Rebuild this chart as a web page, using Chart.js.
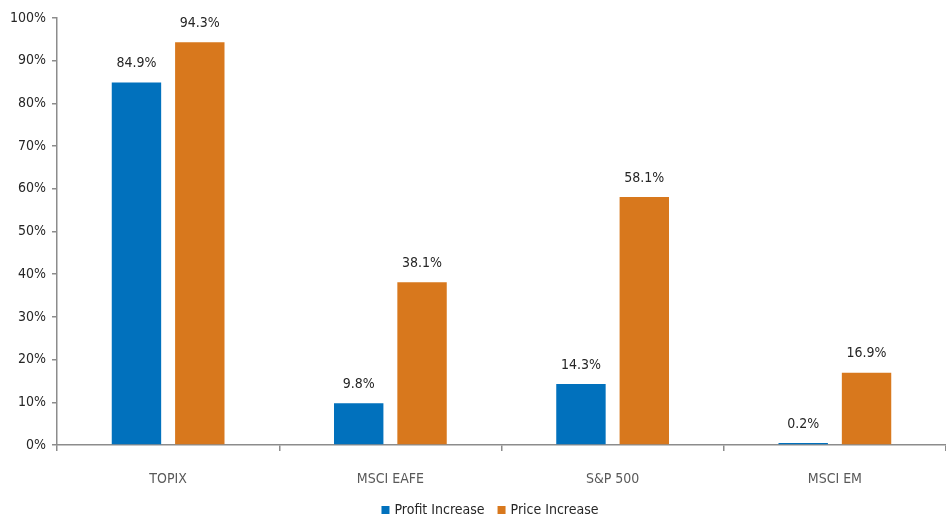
<!DOCTYPE html>
<html>
<head>
<meta charset="utf-8">
<script src="https://cdn.jsdelivr.net/npm/chart.js@4.4.0/dist/chart.umd.min.js"></script>
<style>
  html, body { margin: 0; padding: 0; background: #fff; }
  #wrap { width: 946px; height: 517px; }
</style>
</head>
<body>
<div id="wrap"><canvas id="gains"></canvas></div>
<script>
"use strict"

let indices = ["TOPIX", "MSCI EAFE", "S&P 500", "MSCI EM"]
let profitIncrease = [84.9, 9.8, 14.3, 0.2]
let priceIncrease = [94.3, 38.1, 58.1, 16.9]
let yTicks = [0, 10, 20, 30, 40, 50, 60, 70, 80, 90, 100]

let police = "'Liberation Sans Narrow', 'DejaVu Sans Condensed', 'Open Sans', sans-serif"

// labels above each bar
let etiquettes = {
    id: "etiquettes",
    afterDatasetsDraw(chart) {
        let ctx = chart.ctx
        ctx.save()
        ctx.font = "14px " + police
        ctx.fillStyle = "#262626"
        ctx.textAlign = "center"
        ctx.textBaseline = "bottom"
        chart.data.datasets.forEach((ds, i) => {
            chart.getDatasetMeta(i).data.forEach((bar, j) => {
                ctx.fillText(ds.data[j].toFixed(1) + "%", bar.x, bar.y - 12)
            })
        })
        ctx.restore()
    }
}

// small legend at the bottom, drawn by hand to keep it close to the edge
let legende = {
    id: "legende",
    afterDraw(chart) {
        let ctx = chart.ctx
        ctx.save()
        ctx.font = "14px " + police
        ctx.textBaseline = "middle"
        let items = chart.data.datasets.map(ds => ({
            txt: ds.label,
            col: ds.backgroundColor,
            w: 8 + 5 + ctx.measureText(ds.label).width
        }))
        let total = items.reduce((s, it) => s + it.w, 0) + 13 * (items.length - 1)
        let x = 490 - total / 2
        let y = 510
        items.forEach(it => {
            ctx.fillStyle = it.col
            ctx.fillRect(x, y - 4, 8, 8)
            ctx.fillStyle = "#262626"
            ctx.fillText(it.txt, x + 13, y)
            x += it.w + 13
        })
        ctx.restore()
    }
}

let graph = new Chart(document.querySelector("#gains"), {
    type: "bar",
    data: {
        labels: indices,
        datasets: [{
            label: "Profit Increase",
            data: profitIncrease,
            backgroundColor: "#0171bd",
            categoryPercentage: 0.57,
            barPercentage: 0.78,
            minBarLength: 2
        }, {
            label: "Price Increase",
            data: priceIncrease,
            backgroundColor: "#d8781d",
            categoryPercentage: 0.57,
            barPercentage: 0.78,
            minBarLength: 2
        }]
    },
    options: {
        responsive: true,
        maintainAspectRatio: false,
        animation: false,
        layout: { padding: { top: 18, right: 0, left: 4, bottom: 0 } },
        plugins: {
            legend: { display: false },
            tooltip: { enabled: false }
        },
        scales: {
            x: {
                afterFit(axis) { axis.height = 72 },
                grid: {
                    offset: true,
                    drawOnChartArea: false,
                    drawTicks: true,
                    tickLength: 6,
                    color: "#8c8c8c",
                    lineWidth: 1.5
                },
                border: { color: "#8c8c8c", width: 1.5 },
                ticks: {
                    color: "#595959",
                    padding: 20,
                    font: { family: police, size: 14 }
                }
            },
            y: {
                min: 0,
                max: 100,
                afterBuildTicks(axis) {
                    axis.ticks = yTicks.map(v => ({ value: v }))
                },
                grid: {
                    drawOnChartArea: false,
                    tickLength: 5,
                    color: "#8c8c8c",
                    lineWidth: 1.5
                },
                border: { color: "#8c8c8c", width: 1.5 },
                ticks: {
                    color: "#262626",
                    padding: 6,
                    font: { family: police, size: 14 },
                    callback: v => v + "%"
                }
            }
        }
    },
    plugins: [etiquettes, legende]
})
</script>
</body>
</html>
